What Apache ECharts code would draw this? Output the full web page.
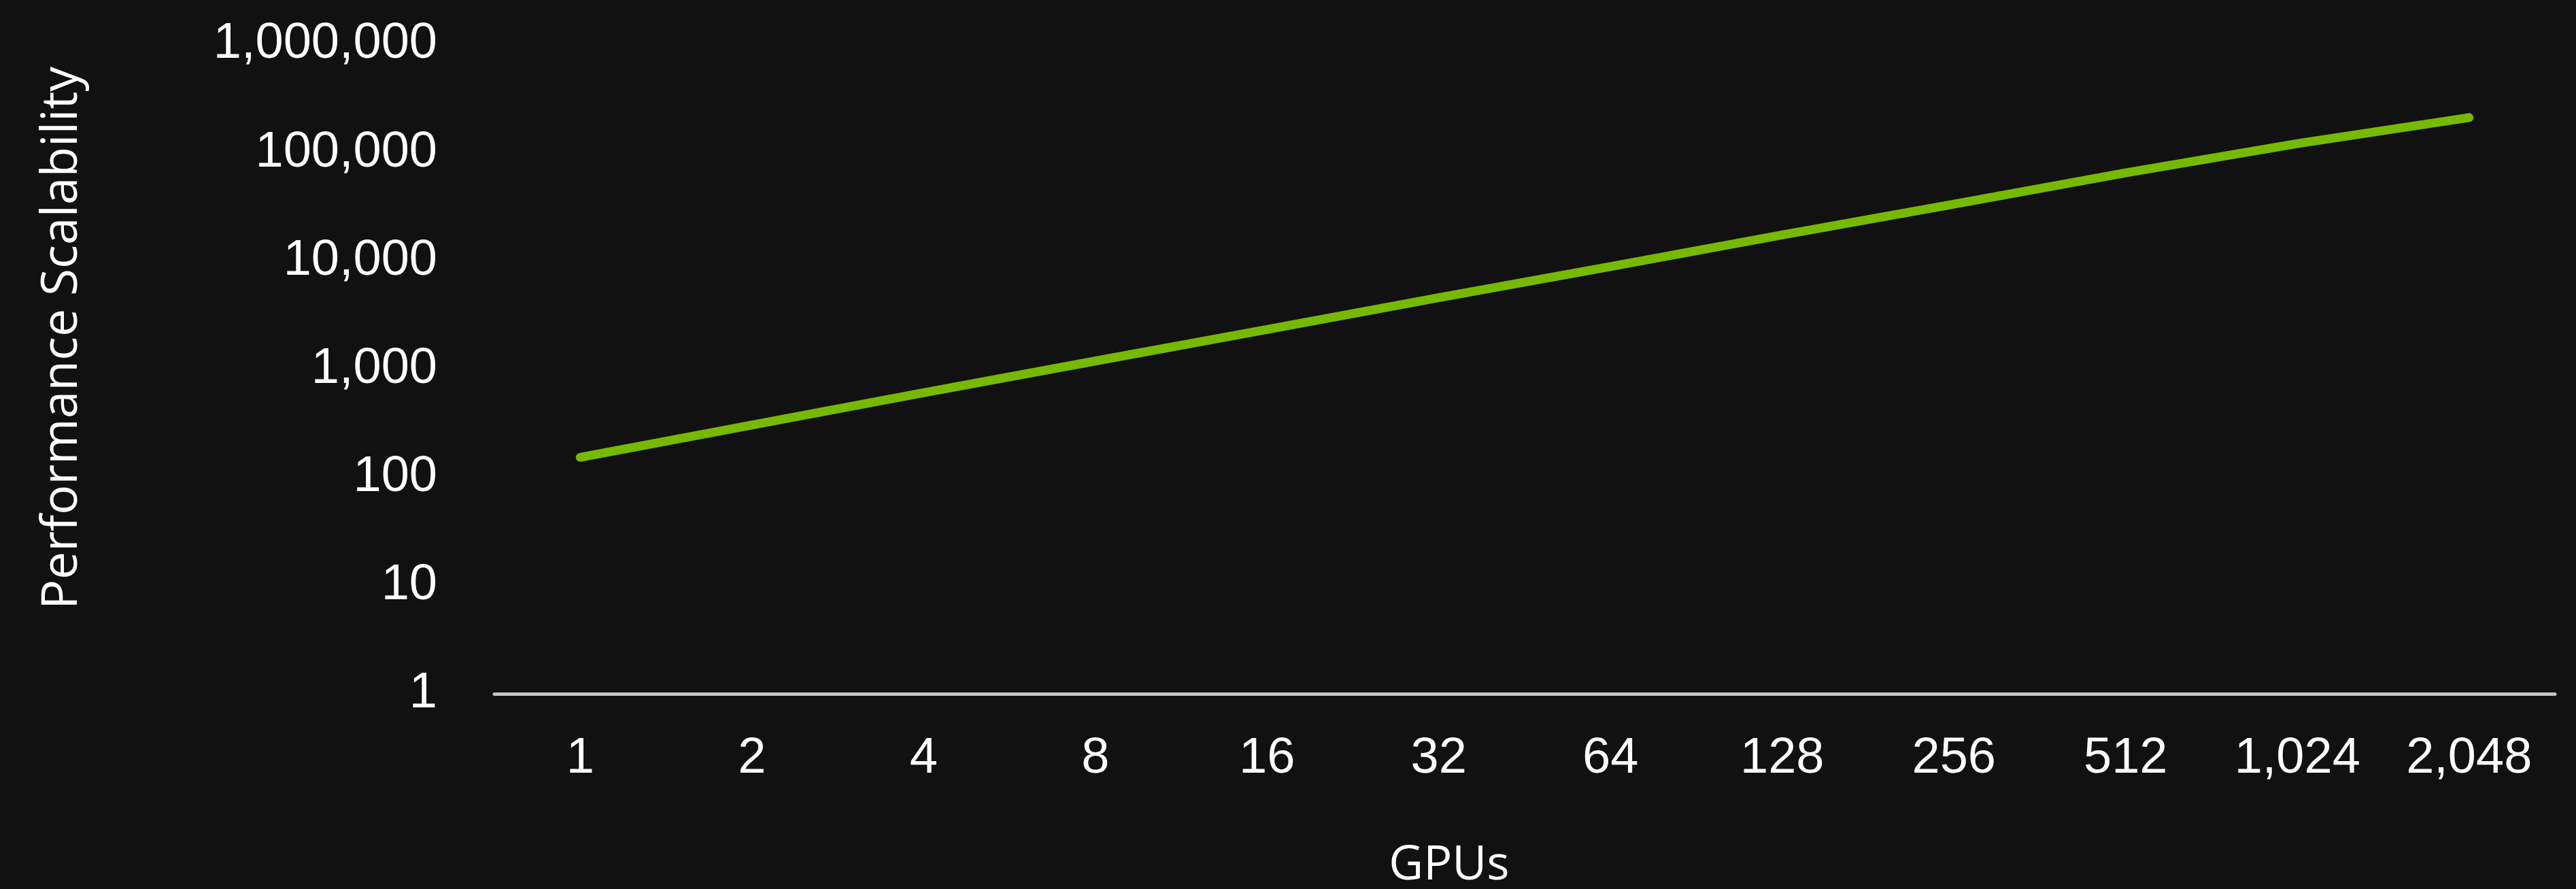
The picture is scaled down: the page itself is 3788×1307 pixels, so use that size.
<!DOCTYPE html>
<html>
<head>
<meta charset="utf-8">
<script src="https://cdn.jsdelivr.net/npm/echarts@6/dist/echarts.min.js"></script>
<style>
html,body{margin:0;padding:0;background:#111111;}
#chart{width:3788px;height:1307px;}
</style>
</head>
<body>
<div id="chart"></div>
<script>
const gpuCategories = ['1','2','4','8','16','32','64','128','256','512','1,024','2,048'];
const scalabilityValues = [153, 304, 604, 1185, 2317, 4560, 8850, 17330, 33360, 64900, 120800, 210000];
const yTickValues = [1, 10, 100, 1000, 10000, 100000, 1000000];
const xAxisTitle = 'GPUs';
const yAxisTitle = 'Performance Scalability';

const chart = echarts.init(document.getElementById('chart'), null, {renderer: 'canvas'});
chart.setOption({
  backgroundColor: '#111111',
  animation: false,
  grid: {left: 727, right: 31, top: 65, bottom: 287, containLabel: false},
  xAxis: {
    type: 'category',
    data: gpuCategories,
    boundaryGap: true,
    axisLine: {show: true, lineStyle: {color: '#c4c4c4', width: 5}},
    axisTick: {show: false},
    splitLine: {show: false},
    axisLabel: {
      color: '#ffffff',
      fontFamily: 'Liberation Sans, Arial, sans-serif',
      fontSize: 74,
      margin: 59,
      interval: 0
    }
  },
  yAxis: {
    type: 'log',
    logBase: 10,
    min: yTickValues[0],
    max: yTickValues[yTickValues.length - 1],
    axisLine: {show: false},
    axisTick: {show: false},
    splitLine: {show: false},
    axisLabel: {
      color: '#ffffff',
      fontFamily: 'Liberation Sans, Arial, sans-serif',
      fontSize: 74,
      margin: 84,
      padding: [10, 0, 0, 0],
      formatter: function (v) { return Math.round(v).toLocaleString('en-US'); }
    }
  },
  graphic: [
    {
      type: 'text',
      x: 2131, y: 1273,
      style: {
        text: xAxisTitle,
        fill: '#ffffff',
        font: '70px "Open Sans", sans-serif',
        align: 'center',
        verticalAlign: 'middle'
      }
    },
    {
      type: 'text',
      x: 92, y: 497,
      rotation: Math.PI / 2,
      style: {
        text: yAxisTitle,
        fill: '#ffffff',
        font: '73px "Open Sans", sans-serif',
        align: 'center',
        verticalAlign: 'middle'
      }
    }
  ],
  series: [{
    type: 'line',
    data: scalabilityValues,
    showSymbol: false,
    symbol: 'none',
    smooth: false,
    lineStyle: {color: '#76b900', width: 13, cap: 'round', join: 'round'}
  }]
});
</script>
</body>
</html>
